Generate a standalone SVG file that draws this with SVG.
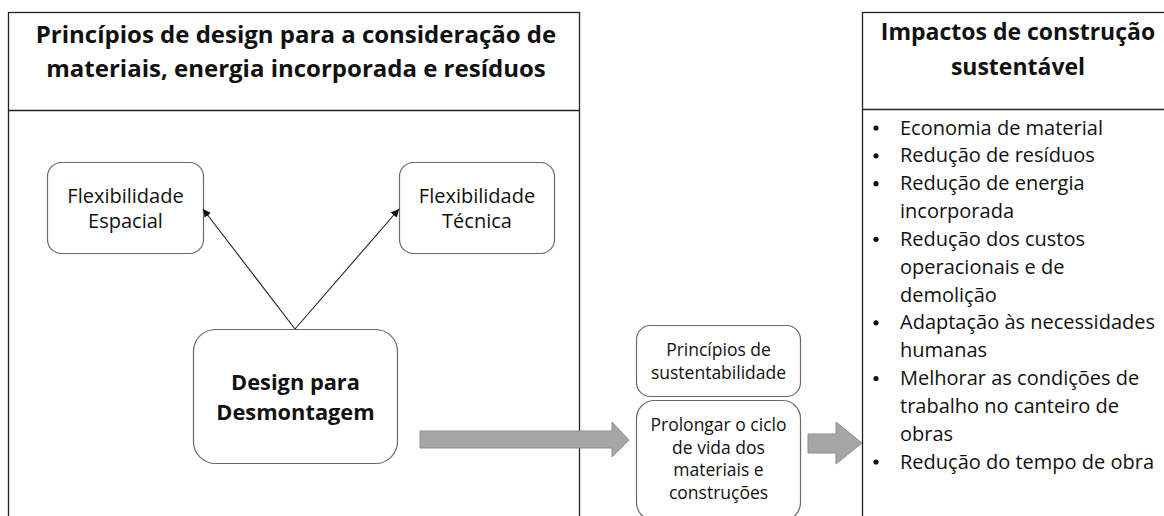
<svg xmlns="http://www.w3.org/2000/svg" width="1164" height="516" viewBox="0 0 1164 516">
  <defs>
    <marker id="ah" viewBox="0 0 10 10" refX="10" refY="5" markerWidth="8" markerHeight="8" markerUnits="userSpaceOnUse" orient="auto">
      <path d="M0,0 L10,5 L0,10 z" fill="#111"/>
    </marker>
    <style>
      .panel { fill: #fff; stroke: #222; stroke-width: 1.3; }
      .div { stroke: #222; stroke-width: 1.3; }
      .box { fill: #fff; stroke: #6a6a6a; stroke-width: 1.2; }
      .t { font-family: "Open Sans", "Noto Sans", sans-serif; fill: #111; }
      .title { font-weight: bold; text-anchor: middle; }
      .bold { font-size: 21.8px; font-weight: bold; text-anchor: middle; }
      .lbl { font-size: 20px; text-anchor: middle; }
      .mid { font-size: 17.5px; text-anchor: middle; }
      .bul { font-size: 20px; }
      .dot { fill: #111; }
      .conn { stroke: #222; stroke-width: 1.1; fill: none; }
      .big { fill: #a6a6a6; stroke: #8f8f8f; stroke-width: 1; }
    </style>
  </defs>
  <rect width="1164" height="516" fill="#fff"/>

  <g id="left-panel">
    <rect class="panel" x="8.5" y="12.5" width="571" height="520"/>
    <line class="div" x1="8.5" y1="110.5" x2="579.5" y2="110.5"/>
    <text class="t title" x="296" y="43" font-size="24">Princípios de design para a consideração de</text>
    <text class="t title" x="296" y="77" font-size="24">materiais, energia incorporada e resíduos</text>
  </g>

  <g id="right-panel">
    <rect class="panel" x="862.5" y="12.5" width="320" height="520"/>
    <line class="div" x1="862.5" y1="109.5" x2="1164" y2="109.5"/>
    <text class="t title" x="1018" y="40" font-size="23">Impactos de construção</text>
    <text class="t title" x="1018" y="75" font-size="23">sustentável</text>
    <g class="dot">
      <circle cx="876" cy="128" r="2.6"/>
      <circle cx="876" cy="155.8" r="2.6"/>
      <circle cx="876" cy="183.7" r="2.6"/>
      <circle cx="876" cy="239.3" r="2.6"/>
      <circle cx="876" cy="322.8" r="2.6"/>
      <circle cx="876" cy="378.5" r="2.6"/>
      <circle cx="876" cy="462" r="2.6"/>
    </g>
    <g class="t bul">
      <text x="900" y="134.5">Economia de material</text>
      <text x="900" y="162.3">Redução de resíduos</text>
      <text x="900" y="190.2">Redução de energia</text>
      <text x="900" y="218">incorporada</text>
      <text x="900" y="245.8">Redução dos custos</text>
      <text x="900" y="273.7">operacionais e de</text>
      <text x="900" y="301.5">demolição</text>
      <text x="900" y="329.3">Adaptação às necessidades</text>
      <text x="900" y="357.1">humanas</text>
      <text x="900" y="385">Melhorar as condições de</text>
      <text x="900" y="412.8">trabalho no canteiro de</text>
      <text x="900" y="440.6">obras</text>
      <text x="900" y="468.5">Redução do tempo de obra</text>
    </g>
  </g>

  <g id="flex-espacial">
    <rect class="box" x="47.5" y="162.5" width="156" height="91" rx="14"/>
    <text class="t lbl" x="125.5" y="203">Flexibilidade</text>
    <text class="t lbl" x="125.5" y="227.5">Espacial</text>
  </g>

  <g id="flex-tecnica">
    <rect class="box" x="399.5" y="162.5" width="155" height="91" rx="14"/>
    <text class="t lbl" x="477" y="203">Flexibilidade</text>
    <text class="t lbl" x="477" y="227.5">Técnica</text>
  </g>

  <g id="design-desmontagem">
    <rect class="box" x="193.5" y="329.5" width="204" height="134" rx="22"/>
    <text class="t bold" x="295.5" y="390">Design para</text>
    <text class="t bold" x="295.5" y="420">Desmontagem</text>
  </g>

  <g id="principios-sustentabilidade">
    <rect class="box" x="636.5" y="325.5" width="164" height="71" rx="14"/>
    <text class="t mid" x="718.5" y="356">Princípios de</text>
    <text class="t mid" x="718.5" y="379">sustentabilidade</text>
  </g>

  <g id="prolongar-ciclo">
    <rect class="box" x="636.5" y="400.5" width="164" height="120" rx="18"/>
    <text class="t mid" x="718.5" y="431">Prolongar o ciclo</text>
    <text class="t mid" x="718.5" y="453.5">de vida dos</text>
    <text class="t mid" x="718.5" y="476">materiais e</text>
    <text class="t mid" x="718.5" y="498.5">construções</text>
  </g>

  <g id="connectors">
    <line class="conn" x1="295" y1="329" x2="203" y2="209" marker-end="url(#ah)"/>
    <line class="conn" x1="295" y1="329" x2="399" y2="209" marker-end="url(#ah)"/>
    <polygon class="big" points="420,431 612,431 612,422 629,440 612,457 612,448 420,448"/>
    <polygon class="big" points="808,434 836,434 836,422 862,443 836,464 836,453 808,453"/>
  </g>
</svg>
